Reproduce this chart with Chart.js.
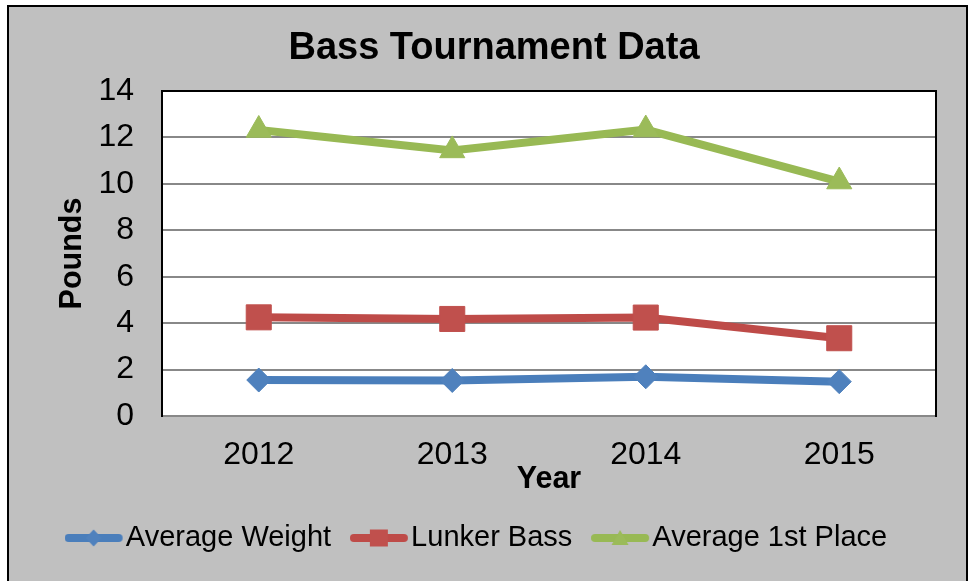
<!DOCTYPE html>
<html>
<head>
<meta charset="utf-8">
<script src="https://cdn.jsdelivr.net/npm/chart.js@4/dist/chart.umd.min.js"></script>
<style>
  html, body { margin: 0; padding: 0; background: #fff; overflow: hidden; }
  #frame {
    position: absolute; left: 7px; top: 5px;
    width: 957px; height: 600px;
    border: 2px solid #000; background: #c0c0c0;
  }
  #wrap { position: relative; width: 957px; height: 574px; }
  /* white plot area sitting under the transparent canvas */
  #plotBg { position: absolute; left: 153px; top: 84px; width: 774px; height: 325px; background: #fff; }
  #myChart { position: relative; display: block; }
</style>
</head>
<body>
<div id="frame"><div id="wrap"><div id="plotBg"></div><canvas id="myChart" width="957" height="574"></canvas></div></div>
<script>
// ============================================
// DATA
// ============================================
const years = ['2012', '2013', '2014', '2015'];
const avgWeight = [1.55, 1.53, 1.69, 1.48];
const lunkerBass = [4.25, 4.18, 4.24, 3.35];
const avgFirstPlace = [12.32, 11.44, 12.34, 10.10];
const seriesNames = ['Average Weight', 'Lunker Bass', 'Average 1st Place'];
const yTicks = [0, 2, 4, 6, 8, 10, 12, 14];

const lineColors = ['#4A7EBB', '#BE4B48', '#98B954'];
const markerColors = ['#4F81BD', '#C0504D', '#9BBB59'];
const markerStyles = ['rectRot', 'rect', 'triangle'];
const markerRadius = [12, 17.7, 14.5];

Chart.defaults.font.family = "'Liberation Sans', Arial, sans-serif";
Chart.defaults.color = '#000';

// legend icon: short line with a small marker in the middle
function legendIcon(i) {
    const c = document.createElement('canvas');
    c.width = 83;
    c.height = 24;
    const g = c.getContext('2d');
    g.strokeStyle = lineColors[i];
    g.lineWidth = 8;
    g.lineCap = 'round';
    g.beginPath();
    g.moveTo(4, 12);
    g.lineTo(54, 12);
    g.stroke();
    g.fillStyle = markerColors[i];
    g.beginPath();
    if (i === 0) {
        g.moveTo(29, 3.5); g.lineTo(37, 12); g.lineTo(29, 20.5); g.lineTo(21, 12);
    } else if (i === 1) {
        g.rect(20, 3.5, 18, 17);
    } else {
        g.moveTo(29, 4); g.lineTo(37.5, 19); g.lineTo(20.5, 19);
    }
    g.closePath();
    g.fill();
    return c;
}
const icons = [0, 1, 2].map(legendIcon);

const seriesData = [avgWeight, lunkerBass, avgFirstPlace];

// also fill the chart area white on the canvas itself
const plotBackground = {
    id: 'plotBackground',
    beforeDraw(chart) {
        const a = chart.chartArea;
        chart.ctx.save();
        chart.ctx.fillStyle = '#ffffff';
        chart.ctx.fillRect(a.left, a.top, a.right - a.left, a.bottom - a.top);
        chart.ctx.restore();
    }
};

const chart = new Chart(document.getElementById('myChart'), {
    type: 'line',
    data: {
        labels: years,
        datasets: seriesNames.map((name, i) => ({
            label: name,
            data: seriesData[i],
            borderColor: lineColors[i],
            backgroundColor: markerColors[i],
            borderWidth: 8,
            tension: 0,
            pointStyle: markerStyles[i],
            pointRadius: markerRadius[i],
            pointHoverRadius: markerRadius[i],
            pointBackgroundColor: markerColors[i],
            pointBorderColor: markerColors[i],
            pointBorderWidth: 1,
            clip: false
        }))
    },
    plugins: [plotBackground],
    options: {
        responsive: false,
        animation: false,
        layout: {
            padding: { left: 13, right: 0, top: 0, bottom: 18.5 }
        },
        plugins: {
            tooltip: { enabled: false },
            title: {
                display: true,
                text: 'Bass Tournament Data',
                color: '#000',
                font: { size: 38, weight: 'bold' },
                padding: { top: 18.7, bottom: 19.7 }
            },
            legend: {
                position: 'bottom',
                labels: {
                    usePointStyle: true,
                    pointStyleWidth: 10.5,
                    padding: 55,
                    color: '#000',
                    font: { size: 29 },
                    generateLabels: (c) => {
                        const items = Chart.defaults.plugins.legend.labels.generateLabels(c);
                        items.forEach((it, i) => { it.pointStyle = icons[i]; });
                        return items;
                    }
                }
            }
        },
        scales: {
            x: {
                offset: true,
                grid: { display: false, drawTicks: false },
                border: { color: '#888888', width: 2 },
                ticks: { color: '#000', font: { size: 32 }, padding: 20 },
                title: {
                    display: true,
                    text: 'Year',
                    color: '#000',
                    font: { size: 30.5, weight: 'bold' },
                    padding: { top: 0, bottom: -29.5 }
                },
                afterFit: (s) => { s.height = 52.5; }
            },
            y: {
                min: yTicks[0],
                max: yTicks[yTicks.length - 1],
                afterBuildTicks: (s) => { s.ticks = yTicks.map(v => ({ value: v })); },
                grid: {
                    color: (c) => (c.tick && c.tick.value === 14 ? '#000' : '#888888'),
                    lineWidth: 2,
                    drawTicks: false
                },
                border: { color: '#000', width: 2 },
                ticks: { color: '#000', font: { size: 32 }, padding: 28 },
                title: {
                    display: true,
                    text: 'Pounds',
                    color: '#000',
                    font: { size: 30.5, weight: 'bold' },
                    padding: { top: 32.7, bottom: 0 }
                },
                afterFit: (s) => { s.width = 140; }
            },
            y2: {
                position: 'right',
                min: 0,
                max: 14,
                grid: { display: false, drawTicks: false },
                ticks: { display: false },
                border: { display: true, color: '#000', width: 2 },
                afterFit: (s) => { s.width = 30; }
            }
        }
    }
});
</script>
</body>
</html>
